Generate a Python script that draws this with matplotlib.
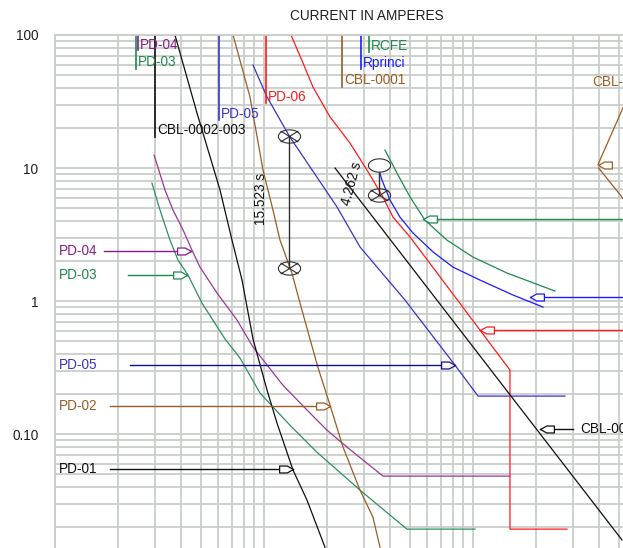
import matplotlib
matplotlib.use('Agg')
import matplotlib.pyplot as plt
from matplotlib.path import Path
import numpy as np

plt.rcParams['font.family'] = ['Liberation Sans', 'DejaVu Sans']
plt.rcParams['font.size'] = 9.8

# ---- device curves, current in A / time in s ----
pd04_i = [29.8, 33.6, 36.7, 41.0, 45.2, 49.4, 59.6, 74.3, 88.6, 123, 160.6, 200, 249.5, 371, 1503]
pd04_t = [12.5, 6.83, 4.83, 3.42, 2.42, 1.80, 1.149, 0.720, 0.451, 0.2336, 0.1516, 0.1072, 0.0798, 0.0483, 0.0483]

pd03_i = [29.1, 31.8, 35.5, 38.8, 43.3, 50.5, 65.1, 76.8, 95.7, 133, 179, 288, 483, 1022]
pd03_t = [7.71, 4.83, 2.87, 2.03, 1.568, 0.966, 0.518, 0.373, 0.2034, 0.1168, 0.0732, 0.0379, 0.0193, 0.0193]

pd01_i = [37.5, 47.8, 61.6, 70.3, 78.5, 88.6, 103.4, 115.4, 137.7, 160.6, 195.8]
pd01_t = [100, 25.9, 6.83, 2.87, 1.438, 0.518, 0.2142, 0.121, 0.0536, 0.0319, 0.0141]

pd02_i = [71.1, 85.7, 98.9, 110.4, 119.3, 136, 148.7, 166, 181, 207, 238.8, 288, 332, 359]
pd02_t = [100, 34.2, 9.66, 4.83, 2.87, 1.624, 0.966, 0.518, 0.319, 0.165, 0.0798, 0.0379, 0.0238, 0.0141]

pd05_i = [88.6, 103.4, 133, 179, 223.6, 288, 472.8, 820, 1057, 2755]
pd05_t = [59.5, 34.2, 17.1, 8.56, 5.09, 2.55, 1.017, 0.330, 0.193, 0.193]

pd06_i = [134.7, 153.7, 171.6, 207, 258, 311, 371, 414, 499.6, 776, 1080, 1503, 1503, 2817]
pd06_t = [100, 61.6, 40.6, 24.2, 15.4, 9.66, 6.05, 4.28, 3.03, 1.21, 0.605, 0.303, 0.0193, 0.0193]

rprinci_i = [351, 367, 400.6, 447, 516, 644, 802, 1080, 1554, 2162]
rprinci_t = [10.17, 8.12, 5.75, 4.28, 3.25, 2.34, 1.80, 1.438, 1.11, 0.901]

rcfe_i = [379, 433, 500, 589, 751, 1000, 1455, 2468]
rcfe_t = [13.66, 9.17, 6.05, 4.06, 2.87, 2.14, 1.624, 1.189]

cbl_a_i = [218.7, 5163]
cbl_a_t = [10.0, 0.0160]
cbl_b_i = [3990, 5163, 6000]
cbl_b_t = [10.0, 6.05, 4.45]

# ---- labels ----
top_names = ['PD-04', 'PD-03', 'CBL-0002-003', 'PD-05', 'PD-06', 'CBL-0001', 'Rprinci', 'RCFE']
top_i = [24.95, 24.4, 30.1, 60.9, 102.2, 236, 291, 318]
top_end_t = [77.1, 55.5, 17.1, 22.96, 30.8, 40.6, 55.5, 74.5]
top_text_t = [84.5, 63.0, 19.4, 25.6, 34.4, 46.2, 62.0, 83.0]

left_names = ['PD-04', 'PD-03', 'PD-05', 'PD-02', 'PD-01']
left_t = [2.376, 1.568, 0.330, 0.1624, 0.0546]
left_start_i = [17.2, 22.4, 22.9, 18.3, 18.3]
left_tip_i = [44.5, 42.8, 820, 207, 137.7]

right_t = [4.14, 1.072, 0.605]
right_tip_i = [576, 1874, 1080]

purple = '#8b1a8b'
green = '#1f8a4c'
blue5 = '#3535c8'
navy = '#10108a'
blue = '#1a1aff'
red = '#ff1a1a'
brown = '#9c5c24'
black = '#101010'
grid_c = '#c9cec9'

top_colors = [purple, green, black, blue5, red, brown, blue, green]
left_colors = [purple, green, navy, brown, black]
left_text_colors = [purple, green, blue5, brown, black]
right_colors = [green, blue, red]


def arrow_path(sign):
    v = [(0, 0), (-0.45 * sign, 0.25), (-1 * sign, 0.25), (-1 * sign, -0.25),
         (-0.45 * sign, -0.25), (0, 0)]
    c = [Path.MOVETO] + [Path.LINETO] * 4 + [Path.CLOSEPOLY]
    return Path(v, c)


def ellipse_path(cross):
    th = np.linspace(0, 2 * np.pi, 40)
    v = list(zip(np.cos(th), 0.6 * np.sin(th)))
    c = [Path.MOVETO] + [Path.LINETO] * 39
    if cross:
        v += [(-0.8, -0.5), (0.8, 0.5), (-0.8, 0.5), (0.8, -0.5)]
        c += [Path.MOVETO, Path.LINETO, Path.MOVETO, Path.LINETO]
    return Path(v, c)


fig = plt.figure(figsize=(6.23, 5.48), dpi=100)
ax = fig.add_axes([55 / 623, 0, 568 / 623, 513 / 548])
ax.set_xscale('log')
ax.set_yscale('log')
ax.set_xlim(10, 5221)
ax.set_ylim(0.01392, 100)

lw = 0.9
ax.plot(pd04_i, pd04_t, color='#9a389a', lw=lw)
ax.plot(pd03_i, pd03_t, color='#2e9060', lw=lw)
ax.plot(pd01_i, pd01_t, color=black, lw=lw)
ax.plot(pd02_i, pd02_t, color=brown, lw=lw)
ax.plot(pd05_i, pd05_t, color=blue5, lw=lw)
ax.plot(pd06_i, pd06_t, color=red, lw=lw)
ax.plot(rprinci_i, rprinci_t, color=blue, lw=lw)
ax.plot(rcfe_i, rcfe_t, color=green, lw=lw)
ax.plot(cbl_a_i, cbl_a_t, color=black, lw=lw)
ax.plot(cbl_b_i, cbl_b_t, color=brown, lw=lw)

# top labels with short vertical lines
for name, x, t_end, t_txt, c in zip(top_names, top_i, top_end_t, top_text_t, top_colors):
    ax.plot([x, x], [100, t_end], color=c, lw=1.2)
    ax.annotate(name, (x, t_txt), xytext=(1.5, 0), textcoords='offset points',
                ha='left', va='center', color=c)

# left arrow labels
for name, t, x0, x1, c, tc in zip(left_names, left_t, left_start_i, left_tip_i, left_colors, left_text_colors):
    ax.plot([x0, x1], [t, t], color=c, lw=1.0)
    ax.plot([x1], [t], marker=arrow_path(1), ms=20, mfc='white', mec=c, mew=0.9)
    ax.text(10.4, t, name, ha='left', va='center', color=tc)

# right arrows
for t, x1, c in zip(right_t, right_tip_i, right_colors):
    ax.plot([x1, 6000], [t, t], color=c, lw=1.0)
    ax.plot([x1], [t], marker=arrow_path(-1), ms=20, mfc='white', mec=c, mew=0.9)

ax.plot([2092, 3009], [0.109, 0.109], color=black, lw=1.0)
ax.plot([2092], [0.109], marker=arrow_path(-1), ms=20, mfc='white', mec=black, mew=0.9)
ax.text(3251, 0.109, 'CBL-0002-003', ha='left', va='center', color=black)

ax.plot([5300, 3963], [30, 10.6], color=brown, lw=0.9)
ax.plot([3963], [10.6], marker=arrow_path(-1), ms=20, mfc='white', mec=brown, mew=0.9)
ax.text(3707, 44.3, 'CBL-0001', ha='left', va='center', color=brown)

# time-difference markers
ax.plot([131.7, 131.7], [17.3, 1.78], color='#303030', lw=1.0)
ax.plot([131.7, 131.7], [17.3, 1.78], ls='none', marker=ellipse_path(True), ms=16,
        mfc='none', mec='#303030', mew=0.8)
ax.text(96.7, 5.9, '15.523 s', rotation=90, ha='center', va='center', color=black)

ax.plot([355, 355], [10.2, 6.27], color='#303030', lw=1.0)
ax.plot([355], [10.53], ls='none', marker=ellipse_path(False), ms=16,
        mfc='white', mec='#303030', mew=0.8)
ax.plot([355], [6.27], ls='none', marker=ellipse_path(True), ms=16,
        mfc='none', mec='#303030', mew=0.8)
ax.text(262, 7.71, '4.262 s', rotation=75, ha='center', va='center', color=black)

# grid / axes styling
ax.set_axisbelow(True)
ax.grid(True, which='both', color=grid_c, lw=1.3)
for s in ax.spines.values():
    s.set_visible(False)
ax.spines['left'].set_visible(True)
ax.spines['left'].set_color(grid_c)
ax.spines['left'].set_linewidth(1.3)
ax.spines['top'].set_visible(True)
ax.spines['top'].set_color(grid_c)
ax.spines['top'].set_linewidth(1.3)
ax.set_yticks([0.1, 1, 10, 100])
ax.set_yticklabels(['0.10', '1', '10', '100'])
ax.tick_params(axis='both', which='both', length=0)
ax.tick_params(axis='y', pad=12, labelcolor='#202020')
ax.tick_params(axis='y', which='minor', labelleft=False)
ax.tick_params(axis='x', which='both', labelbottom=False)

fig.text(366.5 / 623, 1 - 16 / 548, 'CURRENT IN AMPERES', ha='center', va='center', color='#202020')

fig.savefig('out.png', dpi=100)
